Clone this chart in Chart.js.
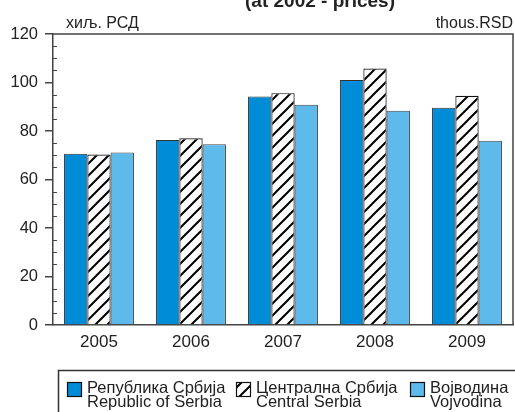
<!DOCTYPE html>
<html lang="sr">
<head>
  <meta charset="UTF-8" />
  <title>Просечна зарада</title>
  <script src="https://cdn.jsdelivr.net/npm/chart.js"></script>
  <style>
    body {
      margin: 0;
      background: #fff;
      font-family: "Liberation Sans", Arial, sans-serif;
    }
  </style>
</head>
<body>
  <canvas id="chart" width="515" height="412"></canvas>

  <script>
    // Data
    const years = ['2005', '2006', '2007', '2008', '2009'];
    const serbia = [70.6, 76.3, 94.2, 101.0, 89.6];
    const centralSerbia = [70.3, 77.0, 95.6, 105.8, 94.5];
    const vojvodina = [71.1, 74.5, 90.8, 88.4, 76.0];
    const namesSr = ['Република Србија', 'Централна Србија', 'Војводина'];
    const namesEn = ['Republic of Serbia', 'Central Serbia', 'Vojvodina'];
    const yTicks = [0, 20, 40, 60, 80, 100, 120];

    const FONT = '"Liberation Sans", Arial, sans-serif';
    const ctx = document.getElementById('chart').getContext('2d');

    // diagonal hatch for Central Serbia
    function makeHatch() {
      const c = document.createElement('canvas');
      c.width = 12; c.height = 12;
      const g = c.getContext('2d');
      g.fillStyle = '#fff';
      g.fillRect(0, 0, 12, 12);
      g.strokeStyle = '#000';
      g.lineWidth = 2;
      g.beginPath();
      g.moveTo(0, 12); g.lineTo(12, 0);
      g.moveTo(-6, 6); g.lineTo(6, -6);
      g.moveTo(6, 18); g.lineTo(18, 6);
      g.stroke();
      return ctx.createPattern(c, 'repeat');
    }
    const hatch = makeHatch();

    // frame, minor ticks, unit labels, cut title and legend box
    const decor = {
      id: 'decor',
      afterDraw(chart) {
        const { ctx, chartArea: a, scales } = chart;
        const y = scales.y;
        ctx.save();
        ctx.strokeStyle = '#444';
        ctx.lineWidth = 1.5;
        ctx.beginPath();
        ctx.moveTo(a.left, a.top);
        ctx.lineTo(a.right, a.top);
        ctx.lineTo(a.right, a.bottom);
        ctx.stroke();

        // minor ticks every 5
        ctx.lineWidth = 1;
        ctx.beginPath();
        for (let v = 5; v < 120; v += 5) {
          if (v % 20 === 0) continue;
          const py = Math.round(y.getPixelForValue(v)) + 0.5;
          ctx.moveTo(a.left, py);
          ctx.lineTo(a.left + 4, py);
        }
        ctx.stroke();

        ctx.fillStyle = '#222';
        ctx.font = '16px ' + FONT;
        ctx.textBaseline = 'alphabetic';
        ctx.textAlign = 'left';
        ctx.fillText('хиљ. РСД', 66, 28);
        ctx.textAlign = 'right';
        ctx.fillText('thous.RSD', 513, 28);

        ctx.font = 'bold 19px ' + FONT;
        ctx.textAlign = 'center';
        ctx.fillText('(at 2002 - prices)', 320, 7);

        // legend
        ctx.strokeStyle = '#333';
        ctx.lineWidth = 1.5;
        ctx.strokeRect(58.5, 370.5, 470, 60);
        const xs = [67, 236, 410];
        ctx.textAlign = 'left';
        ctx.font = '16.5px ' + FONT;
        chart.data.datasets.forEach((ds, i) => {
          ctx.fillStyle = ds.backgroundColor;
          ctx.fillRect(xs[i], 382, 14, 14);
          ctx.strokeStyle = '#111';
          ctx.lineWidth = 1.2;
          ctx.strokeRect(xs[i] + 0.5, 382.5, 14, 14);
          ctx.fillStyle = '#222';
          ctx.fillText(namesSr[i], xs[i] + 20, 393);
          ctx.fillText(namesEn[i], xs[i] + 20, 407);
        });
        ctx.restore();
      }
    };

    new Chart(ctx, {
      type: 'bar',
      data: {
        labels: years,
        datasets: [
          { label: namesSr[0], data: serbia, backgroundColor: '#008cd6', borderColor: '#333', borderWidth: 1 },
          { label: namesSr[1], data: centralSerbia, backgroundColor: hatch, borderColor: '#111', borderWidth: 1.2 },
          { label: namesSr[2], data: vojvodina, backgroundColor: '#5ebaeb', borderColor: '#444', borderWidth: 1 }
        ]
      },
      options: {
        responsive: false,
        animation: false,
        layout: { padding: { top: 34, right: 2, left: 0, bottom: 0 } },
        plugins: {
          legend: { display: false },
          tooltip: { enabled: false }
        },
        datasets: {
          bar: { categoryPercentage: 0.76, barPercentage: 1 }
        },
        scales: {
          x: {
            grid: { display: false, drawTicks: false },
            border: { display: true, color: '#444', width: 1.5 },
            ticks: { color: '#222', font: { family: FONT, size: 17 }, padding: 7 },
            afterFit(scale) { scale.height = 87; }
          },
          y: {
            min: 0,
            max: 120,
            afterBuildTicks(scale) { scale.ticks = yTicks.map(v => ({ value: v })); },
            grid: { drawOnChartArea: false, tickLength: 8, color: '#444', lineWidth: 1.5 },
            border: { display: true, color: '#444', width: 1.5 },
            ticks: { color: '#222', font: { family: FONT, size: 16.5 }, padding: 7 },
            afterFit(scale) { scale.width = 53; }
          }
        }
      },
      plugins: [decor]
    });
  </script>
</body>
</html>
